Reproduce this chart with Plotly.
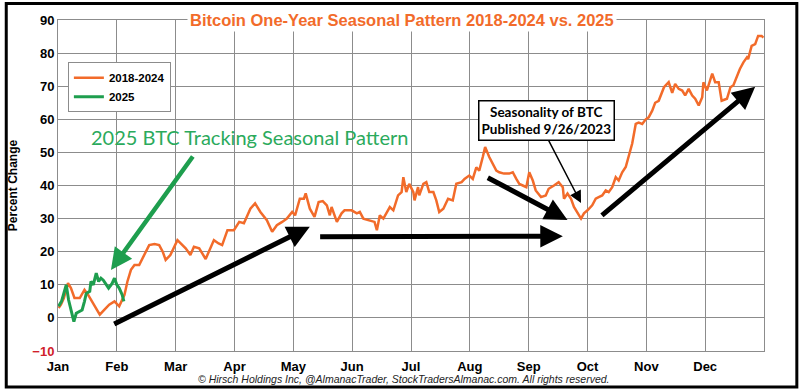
import plotly.graph_objects as go

# ---- data (x in months from Jan 1: 0 = Jan, 12 = end of Dec) ----
month_labels = ["Jan", "Feb", "Mar", "Apr", "May", "Jun", "Jul", "Aug", "Sep", "Oct", "Nov", "Dec"]

seasonal_x = [0.01, 0.05, 0.10, 0.17, 0.22, 0.28, 0.37, 0.45, 0.51, 0.56, 0.62, 0.71, 0.79, 0.87, 0.96,
              1.04, 1.13, 1.18, 1.24, 1.30, 1.38, 1.47, 1.55, 1.64, 1.72, 1.78, 1.83, 1.91, 2.03, 2.17,
              2.25, 2.31, 2.40, 2.51, 2.65, 2.73, 2.79, 2.88, 2.99, 3.08, 3.16, 3.27, 3.35, 3.44, 3.55,
              3.64, 3.72, 3.81, 3.89, 3.98, 4.03, 4.11, 4.18, 4.21, 4.28, 4.36, 4.43, 4.50, 4.57, 4.62,
              4.65, 4.74, 4.82, 4.87, 4.99, 5.08, 5.13, 5.19, 5.30, 5.38, 5.42, 5.47, 5.53, 5.64, 5.70,
              5.78, 5.84, 5.87, 5.92, 5.97, 6.04, 6.06, 6.12, 6.14, 6.21, 6.26, 6.31, 6.38, 6.43, 6.48,
              6.55, 6.63, 6.71, 6.77, 6.86, 6.91, 6.99, 7.05, 7.11, 7.16, 7.22, 7.26, 7.33, 7.39, 7.45,
              7.50, 7.58, 7.67, 7.73, 7.79, 7.84, 7.90, 7.96, 8.01, 8.07, 8.12, 8.21, 8.29, 8.34, 8.43,
              8.51, 8.58, 8.60, 8.66, 8.72, 8.77, 8.83, 8.89, 8.94, 9.00, 9.08, 9.14, 9.19, 9.25, 9.31,
              9.36, 9.42, 9.48, 9.53, 9.59, 9.65, 9.70, 9.76, 9.82, 9.87, 9.93, 9.99, 10.04, 10.10, 10.15,
              10.21, 10.30, 10.38, 10.44, 10.49, 10.55, 10.61, 10.66, 10.72, 10.78, 10.83, 10.89, 10.95,
              10.97, 11.03, 11.12, 11.17, 11.23, 11.28, 11.37, 11.43, 11.48, 11.54, 11.59, 11.65, 11.71,
              11.73, 11.79, 11.85, 11.90, 11.96, 11.99]
seasonal_y = [3, 4, 6, 10.5, 9, 6, 6, 8.5, 7, 5.5, 4, 1, 2.5, 4, 5,
              3.5, 7, 11, 14.5, 16, 16, 19, 22, 22.3, 22, 20, 17.5, 19, 23.5, 21,
              19, 21.5, 21, 17.8, 23.5, 22.5, 22, 26.5, 26.5, 29, 28.6, 33, 34.6, 32, 29.5,
              26, 28, 29, 30, 32, 31, 36, 36, 37.6, 33, 30.5, 35, 35.3, 34, 31,
              33.5, 29, 31.6, 32.5, 32.5, 31.6, 32, 30, 29.5, 29, 26.5, 31, 30, 33.5, 32.5,
              37, 38, 42.5, 38, 40.5, 38, 35.5, 39.5, 37, 40.5, 41, 38, 38, 35.5, 32,
              33, 36, 35.5, 40.5, 41, 42, 43, 42, 45.5, 44.5, 48.6, 51.6, 48.6, 46.6, 44.5,
              44, 43.6, 43.6, 44, 42, 40.5, 40, 39.5, 44, 41.5, 38.5, 36.5, 37, 39, 40,
              41, 39.5, 36, 37.6, 36, 33.5, 31.6, 30, 31.6, 32.5, 34, 36, 36.5, 37, 38.5,
              38, 39.5, 42.5, 41.5, 44, 45.6, 48.6, 52.7, 58.6, 59, 58.6, 60, 60.6, 62.6, 65,
              65.6, 69.7, 71.2, 68, 70.7, 69.2, 68.7, 67.2, 69.2, 67.2, 66.2, 64.2, 66.7,
              71.2, 68.7, 73.8, 71.2, 71.2, 65.6, 66.2, 69.7, 70.3, 73.2, 75.2, 77.2, 78.7,
              78.2, 82.2, 82.7, 85.2, 85.2, 84.7]

y2025_x = [0.01, 0.06, 0.10, 0.14, 0.18, 0.23, 0.27, 0.31, 0.36, 0.41, 0.45, 0.48, 0.54, 0.56,
           0.60, 0.65, 0.69, 0.73, 0.77, 0.82, 0.86, 0.92, 0.96, 1.00, 1.04, 1.09, 1.12]
y2025_y = [3.5, 5, 7.5, 10, 5.4, 2, -1.1, 1.4, 2, 2.4, 5, 7.4, 8, 11,
           10, 13.5, 11, 12, 11.4, 10, 9, 10.4, 12, 10, 9, 7, 5]

y_ticks = [-10, 0, 10, 20, 30, 40, 50, 60, 70, 80, 90]

ORANGE = "#F26B2A"
GREEN = "#1E9E4E"
FONT = "Liberation Sans, Arial, sans-serif"

fig = go.Figure()
fig.add_trace(go.Scatter(x=seasonal_x, y=seasonal_y, mode="lines", name="<b>2018-2024</b>",
                         line=dict(color=ORANGE, width=2.5)))
fig.add_trace(go.Scatter(x=y2025_x, y=y2025_y, mode="lines", name="<b>2025</b>",
                         line=dict(color=GREEN, width=3)))

ytext = []
for v in y_ticks:
    if v < 0:
        ytext.append('<span style="color:#D0202A"><b>\u2212' + str(-v) + '</b></span>')
    else:
        ytext.append("<b>" + str(v) + "</b>")

fig.update_xaxes(range=[0, 12], tickvals=list(range(12)),
                 ticktext=["<b>" + m + "</b>" for m in month_labels],
                 showgrid=True, gridcolor="#8c8c8c", gridwidth=1,
                 showline=True, linecolor="#8c8c8c", mirror=True, zeroline=False,
                 tickfont=dict(family=FONT, size=13, color="black"), ticks="", ticklabelstandoff=3)
fig.update_yaxes(range=[-10, 90], tickvals=y_ticks, ticktext=ytext,
                 showgrid=True, gridcolor="#8c8c8c", gridwidth=1,
                 showline=True, linecolor="#8c8c8c", mirror=True, zeroline=False,
                 tickfont=dict(family=FONT, size=13, color="black"), ticks="",
                 title=dict(text="<b>Percent Change</b>", font=dict(family=FONT, size=12, color="black"),
                            standoff=12))

# arrows
def arrow(x0, y0, x1, y1, color, width, size):
    fig.add_annotation(x=x1, y=y1, ax=x0, ay=y0, xref="x", yref="y", axref="x", ayref="y",
                       showarrow=True, arrowhead=2, arrowsize=size, arrowwidth=width,
                       arrowcolor=color, text="", standoff=0)

arrow(0.93, -2.1, 4.28, 27.5, "black", 5, 0.9)
arrow(4.43, 24.5, 8.58, 24.7, "black", 5, 0.9)
arrow(7.28, 42.6, 8.66, 29.6, "black", 5, 0.9)
arrow(9.22, 30.6, 11.85, 69.8, "black", 5, 0.9)
arrow(2.31, 49.2, 0.90, 14.5, GREEN, 4.5, 0.95)
arrow(8.31, 54.6, 8.89, 34.7, "black", 1.5, 1.6)

fig.add_annotation(x=0.487, y=1.0, xref="paper", yref="paper", yanchor="middle",
                   text="<b>Bitcoin One-Year Seasonal Pattern 2018-2024 vs. 2025</b>",
                   showarrow=False, bgcolor="white", borderpad=2,
                   font=dict(family=FONT, size=16.5, color=ORANGE))
fig.add_annotation(x=3.26, y=54.6, xref="x", yref="y", text="2025 BTC Tracking Seasonal Pattern",
                   showarrow=False, font=dict(family="Lato, sans-serif", size=20, color="#2BAA5C"))
fig.add_annotation(x=8.3, y=59.5, xref="x", yref="y",
                   text="<b>Seasonality of BTC</b><br><b>Published 9/26/2023</b>",
                   showarrow=False, bgcolor="white", bordercolor="black", borderwidth=1.5, borderpad=2,
                   font=dict(family="Lato, sans-serif", size=13.5, color="black"))
fig.add_annotation(x=0.49, y=-0.085, xref="paper", yref="paper", yanchor="middle",
                   text="<i>\u00a9 Hirsch Holdings Inc, @AlmanacTrader, StockTradersAlmanac.com. All rights reserved.</i>",
                   showarrow=False, font=dict(family=FONT, size=10.5, color="#222"))

# outer frame
fig.add_shape(type="rect", xref="paper", yref="paper", x0=-0.0733, x1=1.0465, y0=-0.1086, y1=1.0498,
              line=dict(color="black", width=3))

fig.update_layout(width=800, height=391, margin=dict(l=55, r=36, t=20, b=40),
                  plot_bgcolor="white", paper_bgcolor="white",
                  legend=dict(x=0.014, y=0.872, xanchor="left", yanchor="top",
                              bgcolor="white", bordercolor="#8c8c8c", borderwidth=1,
                              font=dict(family=FONT, size=11.5, color="black"),
                              itemwidth=30, tracegroupgap=0),
                  showlegend=True)

fig.write_html("out.html", config={"displayModeBar": False},
               post_script="document.body.style.margin='0';")
